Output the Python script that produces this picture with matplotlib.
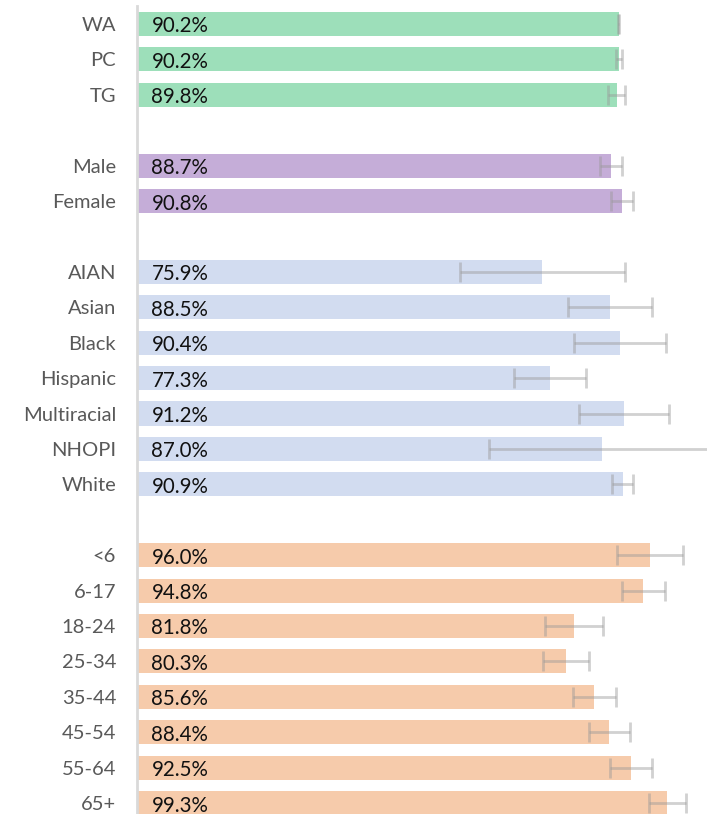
import numpy as np
import matplotlib.pyplot as plt

plt.rcParams['font.family'] = ['Lato', 'DejaVu Sans']

# values (percent, +/- half-width of error bar)
region_labels = ["WA", "PC", "TG"]
region_vals = [90.2, 90.2, 89.8]
region_err = [0.1, 0.6, 1.6]

sex_labels = ["Male", "Female"]
sex_vals = [88.7, 90.8]
sex_err = [2.0, 2.0]

race_labels = ["AIAN", "Asian", "Black", "Hispanic", "Multiracial", "NHOPI", "White"]
race_vals = [75.9, 88.5, 90.4, 77.3, 91.2, 87.0, 90.9]
race_err = [15.5, 7.9, 8.6, 6.75, 8.4, 21.1, 2.0]

age_labels = ["<6", "6-17", "18-24", "25-34", "35-44", "45-54", "55-64", "65+"]
age_vals = [96.0, 94.8, 81.8, 80.3, 85.6, 88.4, 92.5, 99.3]
age_err = [6.15, 4.1, 5.5, 4.25, 4.0, 3.8, 3.9, 3.4]

groups = [
    (region_labels, region_vals, region_err, "#9DDFBA"),
    (sex_labels, sex_vals, sex_err, "#C5ADD8"),
    (race_labels, race_vals, race_err, "#D2DCF0"),
    (age_labels, age_vals, age_err, "#F6CBAB"),
]

fig = plt.figure(figsize=(7.07, 8.14), dpi=100)
ax = fig.add_axes([137 / 707, 0, 570 / 707, 1])

tick_pos = []
tick_lab = []
slot = 0
for labels, vals, errs, color in groups:
    y = np.arange(slot, slot + len(vals))
    ax.barh(y, vals, height=0.68, color=color, zorder=2)
    ax.errorbar(vals, y, xerr=errs, fmt="none", ecolor="#999999", alpha=0.45,
                elinewidth=2, capsize=7, capthick=2, zorder=3, clip_on=True)
    for yy, v in zip(y, vals):
        ax.text(2.7, yy + 0.07, f"{v:.1f}%", va="center", ha="left",
                fontsize=14.8, color="#111111", zorder=4)
    tick_pos += list(y)
    tick_lab += labels
    slot += len(vals) + 1

ax.set_yticks(tick_pos)
ax.set_yticklabels(tick_lab, fontsize=14.5, color="#595959")
ax.tick_params(axis="y", length=0, pad=15)
ax.set_xticks([])
ax.set_xlim(0, 106.7)
ax.set_ylim(22.31, -0.678)

for s in ["top", "right", "bottom"]:
    ax.spines[s].set_visible(False)
ax.spines["left"].set_color("#D9D9D9")
ax.spines["left"].set_linewidth(2)
ax.spines["left"].set_bounds(22.31, -0.51)

fig.savefig("out.png", dpi=100)
